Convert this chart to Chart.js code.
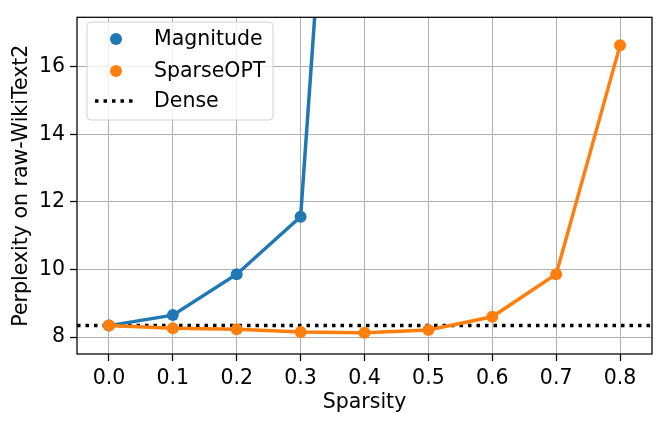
<!DOCTYPE html>
<html>
<head>
<meta charset="utf-8">
<script src="https://cdn.jsdelivr.net/npm/chart.js@4/dist/chart.umd.min.js"></script>
<style>
  html, body { margin: 0; padding: 0; background: #ffffff; }
  #wrap { width: 664px; height: 426px; }
</style>
</head>
<body>
<div id="wrap"><canvas id="chart" width="664" height="426"></canvas></div>
<script>
// sparsity levels on the x axis
var sparsity = [0.0, 0.1, 0.2, 0.3, 0.4, 0.5, 0.6, 0.7, 0.8];
// magnitude pruning blows up after 0.3, the 0.4 point is way off the top
var magnitude = [8.34, 8.65, 9.86, 11.56, 38.4];
var sparseOPT = [8.34, 8.26, 8.23, 8.15, 8.13, 8.21, 8.60, 9.86, 16.63];
var denseValue = 8.34;

var xLimits = [-0.05, 0.85];
var yLimits = [7.5, 17.46];
var xTicks = [0.0, 0.1, 0.2, 0.3, 0.4, 0.5, 0.6, 0.7, 0.8];
var yTicks = [8, 10, 12, 14, 16];

var blue = "#1f77b4";
var orange = "#ff7f0e";
var fontName = "'DejaVu Sans', sans-serif";
var fontSize = 20.5;

function toPoints(xs, ys) {
  var pts = [];
  for (var i = 0; i < ys.length; i++) {
    pts.push({ x: xs[i], y: ys[i] });
  }
  return pts;
}

// matplotlib-ish legend box + axes frame
var mplDecor = {
  id: "mplDecor",
  afterDraw: function (chart) {
    var ctx = chart.ctx;
    var a = chart.chartArea;
    ctx.save();
    ctx.strokeStyle = "#000000";
    ctx.lineWidth = 1.25;
    ctx.strokeRect(a.left, a.top, a.right - a.left, a.bottom - a.top);

    // legend
    var bx = 87, by = 22, bw = 186, bh = 98, r = 4;
    ctx.globalAlpha = 0.8;
    ctx.fillStyle = "#ffffff";
    ctx.beginPath();
    ctx.roundRect(bx, by, bw, bh, r);
    ctx.fill();
    ctx.globalAlpha = 1;
    ctx.strokeStyle = "#d0d0d0";
    ctx.lineWidth = 1;
    ctx.stroke();

    var rows = [39, 71, 101];
    var order = ["Magnitude", "SparseOPT", "Dense"];
    ctx.font = fontSize + "px " + fontName;
    ctx.textBaseline = "middle";
    ctx.textAlign = "left";
    for (var i = 0; i < order.length; i++) {
      var ds = chart.data.datasets.filter(function (d) { return d.label === order[i]; })[0];
      var y = rows[i];
      if (ds.pointRadius > 0) {
        ctx.fillStyle = ds.borderColor;
        ctx.beginPath();
        ctx.arc(116, y, ds.pointRadius, 0, Math.PI * 2);
        ctx.fill();
      } else {
        ctx.strokeStyle = ds.borderColor;
        ctx.lineWidth = ds.borderWidth;
        ctx.setLineDash(ds.borderDash);
        ctx.beginPath();
        ctx.moveTo(95, y);
        ctx.lineTo(137, y);
        ctx.stroke();
        ctx.setLineDash([]);
      }
      ctx.fillStyle = "#000000";
      ctx.fillText(order[i], 154, y + 1);
    }
    ctx.restore();
  }
};

var ctx = document.getElementById("chart").getContext("2d");
new Chart(ctx, {
  type: "line",
  data: {
    datasets: [
      {
        label: "SparseOPT",
        data: toPoints(sparsity, sparseOPT),
        borderColor: orange,
        backgroundColor: orange,
        borderWidth: 3.5,
        pointRadius: 6,
        pointBorderWidth: 0,
        pointBackgroundColor: orange,
        tension: 0,
        clip: 0,
        order: 0
      },
      {
        label: "Magnitude",
        data: toPoints(sparsity, magnitude),
        borderColor: blue,
        backgroundColor: blue,
        borderWidth: 3.5,
        pointRadius: 6,
        pointBorderWidth: 0,
        pointBackgroundColor: blue,
        tension: 0,
        clip: 0,
        order: 1
      },
      {
        label: "Dense",
        data: [{ x: xLimits[0], y: denseValue }, { x: xLimits[1], y: denseValue }],
        borderColor: "#000000",
        borderWidth: 3.5,
        borderDash: [3.5, 5],
        pointRadius: 0,
        clip: 0,
        order: 2
      }
    ]
  },
  options: {
    responsive: false,
    animation: false,
    devicePixelRatio: 1,
    layout: { padding: { top: 12, right: 12, left: 0, bottom: 0 } },
    plugins: {
      legend: { display: false },
      tooltip: { enabled: false }
    },
    scales: {
      x: {
        type: "linear",
        min: xLimits[0],
        max: xLimits[1],
        afterBuildTicks: function (axis) {
          axis.ticks = xTicks.map(function (v) { return { value: v }; });
        },
        afterFit: function (axis) { axis.height = 72; },
        grid: { color: "#b0b0b0", lineWidth: 1, tickLength: 7, tickColor: "#000000", tickWidth: 1.25 },
        border: { display: false },
        ticks: {
          color: "#000000",
          padding: 5,
          maxRotation: 0,
          font: { family: fontName, size: fontSize },
          callback: function (v) { return Number(v).toFixed(1); }
        },
        title: {
          display: true,
          text: "Sparsity",
          color: "#000000",
          font: { family: fontName, size: fontSize },
          padding: { top: 0, bottom: 11 }
        }
      },
      y: {
        type: "linear",
        min: yLimits[0],
        max: yLimits[1],
        afterBuildTicks: function (axis) {
          axis.ticks = yTicks.map(function (v) { return { value: v }; });
        },
        afterFit: function (axis) { axis.width = 77; },
        grid: { color: "#b0b0b0", lineWidth: 1, tickLength: 7, tickColor: "#000000", tickWidth: 1.25 },
        border: { display: false },
        ticks: {
          color: "#000000",
          padding: 5,
          font: { family: fontName, size: fontSize },
          callback: function (v) { return String(v); }
        },
        title: {
          display: true,
          text: "Perplexity on raw-WikiText2",
          color: "#000000",
          font: { family: fontName, size: fontSize },
          padding: { top: 9, bottom: 0 }
        }
      }
    }
  },
  plugins: [mplDecor]
});
</script>
</body>
</html>
